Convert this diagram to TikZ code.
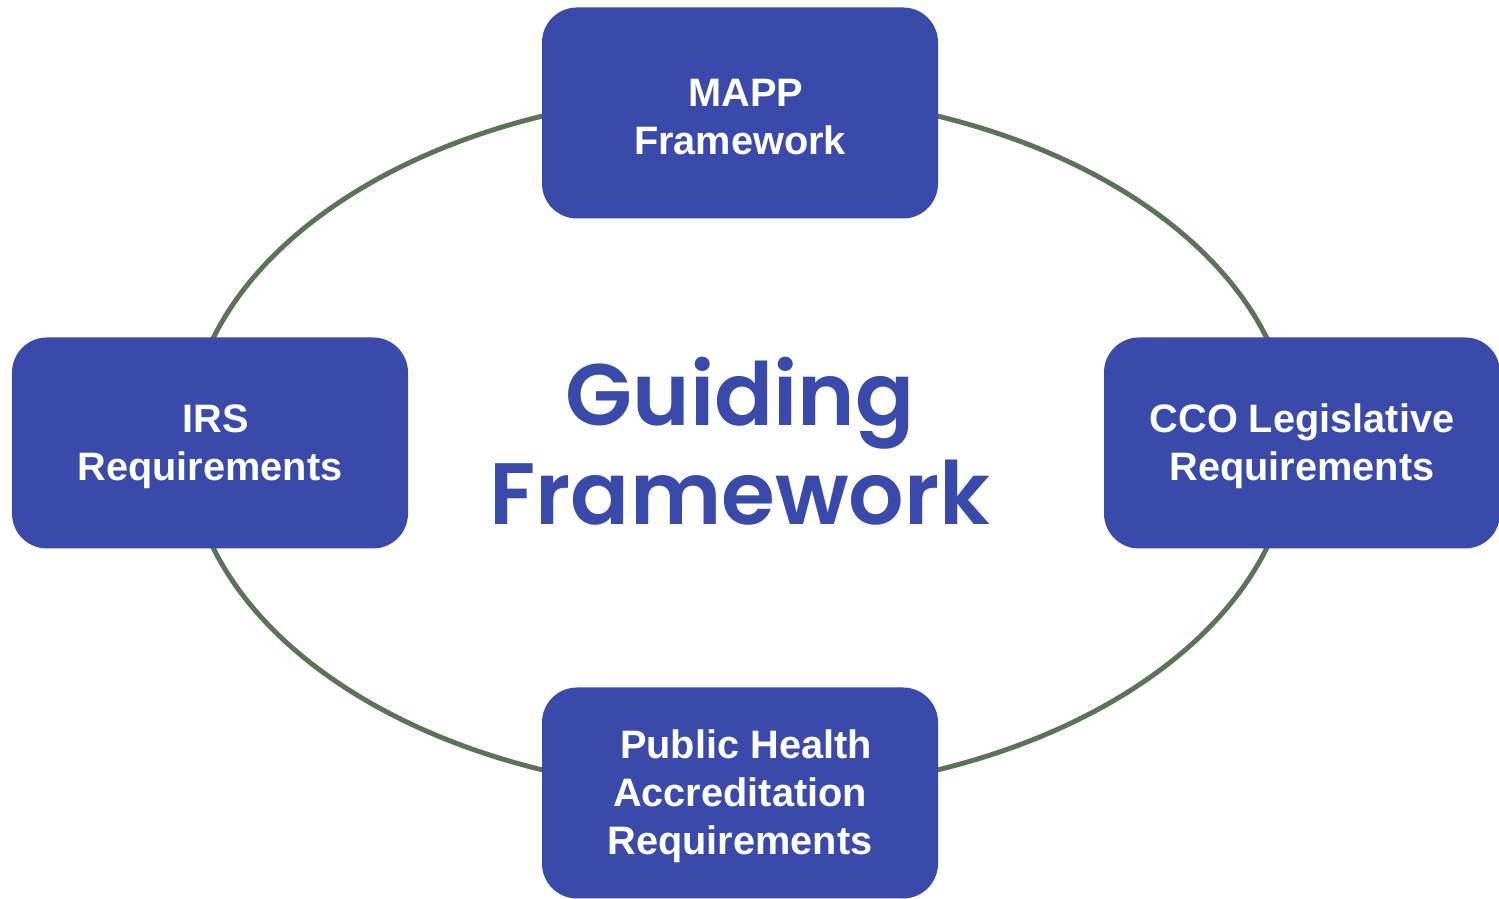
\documentclass[tikz,border=0pt]{standalone}
\usepackage{fontspec}
\setmainfont{Liberation Sans}
\newfontfamily\titlefont{Poppins}[UprightFont=* SemiBold]
\usepackage{tikz}
\usetikzlibrary{positioning}
\definecolor{boxblue}{HTML}{3A4AAB}
\definecolor{ringgreen}{HTML}{5B7457}
\newcommand{\topgap}{\rule{0pt}{9.9pt}}
\tikzset{
    framebox/.style={rectangle, rounded corners=0.35cm, fill=boxblue, text=white,
        minimum width=3.96cm, minimum height=2.11cm, align=center,
        font=\bfseries\fontsize{11.3}{13.6}\selectfont},
    ring/.style={draw=ringgreen, line width=1.4pt}
}

\begin{document}
\begin{tikzpicture}
    \useasboundingbox (0,0) rectangle (14.99,8.99);
    \node[text=boxblue, align=center, font=\titlefont\fontsize{24.8}{28.2}\selectfont]
        (guide) at (7.40,4.58) {Guiding\\Framework};
    \draw[ring] (7.40,4.56) ellipse [x radius=5.52, y radius=3.50];
    \begin{scope}[on grid]
      \node[framebox, above=3.28 of guide] (mapp) {\topgap\hspace*{0.3em}MAPP\\Framework};
      \node[framebox, left=5.30 of guide, yshift=-0.02cm] (irs) {\topgap\hspace*{0.3em}IRS\\Requirements};
      \node[framebox, right=5.62 of guide, yshift=-0.02cm] (cco) {\topgap CCO Legislative\\Requirements};
      \node[framebox, below=3.52 of guide] (phab) {\topgap\hspace*{0.3em}Public Health\\Accreditation\\Requirements};
    \end{scope}
\end{tikzpicture}
\end{document}
